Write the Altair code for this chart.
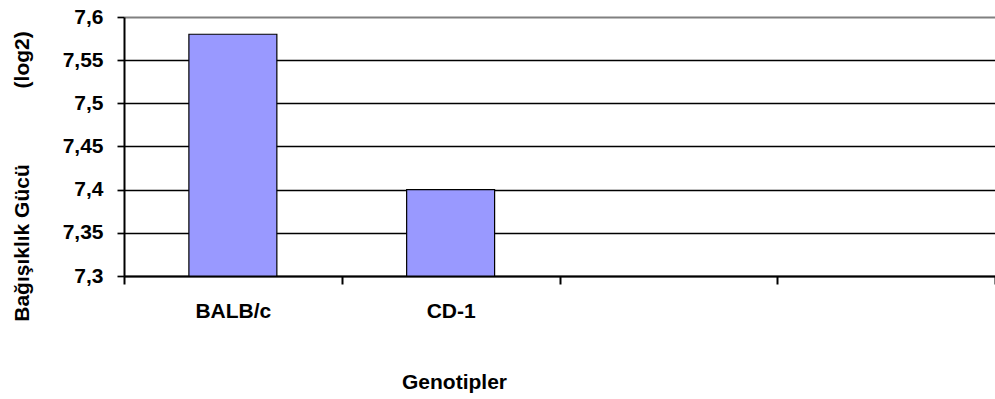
import altair as alt
import pandas as pd

# Immune strength (log2) per mouse genotype
genotypes = ["BALB/c", "CD-1"]
strength = [7.58, 7.40]

# Category slots on the x axis (two unused slots are left blank)
x_slots = ["BALB/c", "CD-1", " ", "  "]
y_ticks = [7.3, 7.35, 7.4, 7.45, 7.5, 7.55, 7.6]
y_min, y_max = 7.3, 7.6

df = pd.DataFrame({"genotip": genotypes, "deger": strength})

FONT = "Liberation Sans"
NB = "\u00a0"
y_title = "Bağışıklık Gücü" + NB * 13 + "(log2)"

bars = (
    alt.Chart(df)
    .mark_bar(color="#9999FF", stroke="black", strokeWidth=1.2,
              width=alt.RelativeBandSize(0.404))
    .encode(
        x=alt.X(
            "genotip:N",
            scale=alt.Scale(domain=x_slots, paddingInner=0, paddingOuter=0),
            sort=x_slots,
            axis=alt.Axis(
                title="Genotipler",
                labelAngle=0,
                tickBand="extent",
                tickSize=8,
                tickColor="black",
                tickWidth=2,
                domainColor="black",
                domainWidth=2,
                labelBaseline="alphabetic",
                labelPadding=33,
                labelFont=FONT,
                labelFontSize=21,
                labelFontWeight="bold",
                labelColor="black",
                titleFont=FONT,
                titleFontSize=21,
                titleFontWeight="bold",
                titleColor="black",
                titleBaseline="alphabetic",
                titleAlign="center",
                titleAnchor="start",
                titleX=330,
                titleY=112,
            ),
        ),
        y=alt.Y(
            "deger:Q",
            scale=alt.Scale(domain=[y_min, y_max], zero=False, nice=False),
            axis=alt.Axis(
                values=y_ticks,
                labelExpr="replace(format(datum.value, '.2~f'), '.', ',')",
                grid=True,
                gridColor={"condition": {"test": "datum.value >= 7.6", "value": "#808080"},
                           "value": "black"},
                gridWidth={"condition": {"test": "datum.value >= 7.6", "value": 2},
                           "value": 1.7},
                tickSize=7,
                tickColor="black",
                tickWidth=1.7,
                domainColor="black",
                domainWidth=2,
                labelPadding=14,
                labelFont=FONT,
                labelFontSize=21,
                labelFontWeight="bold",
                labelColor="black",
                title=y_title,
                titleFont=FONT,
                titleFontSize=21,
                titleFontWeight="bold",
                titleColor="black",
                titleBaseline="alphabetic",
                titleAlign="center",
                titleAnchor="start",
                titleX=-96,
                titleY=159,
            ),
        ),
        y2=alt.Y2(datum=y_min),
    )
)

chart = (
    bars.properties(
        width=871,
        height=259,
        autosize=alt.AutoSizeParams(type="none"),
        padding={"left": 124, "top": 17, "right": 0, "bottom": 123},
        background="white",
    )
    .configure_view(stroke=None)
)

chart.save("out.html", embed_options={"renderer": "svg", "actions": False})
